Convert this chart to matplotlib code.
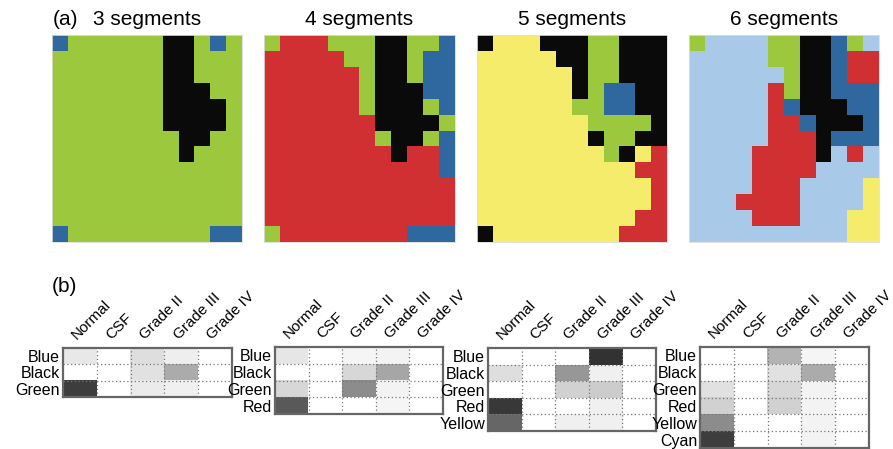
import numpy as np
import matplotlib
matplotlib.use("Agg")
import matplotlib.pyplot as plt
from matplotlib.colors import ListedColormap

plt.rcParams['font.family'] = ['Liberation Sans', 'DejaVu Sans']

# segment maps (13 rows x 12 cols); letters -> segment colour
seg_codes = "GBKRYC"
seg_colors = ["#9bc83c", "#2e689e", "#0a0a0a", "#d03032", "#f5ec6c", "#a9c9e9"]

map3 = ["BGGGGGGKKGBG",
        "GGGGGGGKKGGG",
        "GGGGGGGKKGGG",
        "GGGGGGGKKKGG",
        "GGGGGGGKKKKG",
        "GGGGGGGKKKKG",
        "GGGGGGGGKKGG",
        "GGGGGGGGKGGG",
        "GGGGGGGGGGGG",
        "GGGGGGGGGGGG",
        "GGGGGGGGGGGG",
        "GGGGGGGGGGGG",
        "BGGGGGGGGGBB"]
map4 = ["GRRRGGGKKGGB",
        "RRRRRGGKKGBB",
        "RRRRRRGKKGBB",
        "RRRRRRGKKKBB",
        "RRRRRRGKKKGB",
        "RRRRRRRKKKKG",
        "RRRRRRRGKKGB",
        "RRRRRRRRKRRB",
        "RRRRRRRRRRRB",
        "RRRRRRRRRRRR",
        "RRRRRRRRRRRR",
        "RRRRRRRRRRRR",
        "GRRRRRRRRBBB"]
map5 = ["KYYYKKKGGKKK",
        "YYYYYKKGGKKK",
        "YYYYYYKGGKKK",
        "YYYYYYKGBBKK",
        "YYYYYYGGBBKK",
        "YYYYYYYGGGGK",
        "YYYYYYYKGGKK",
        "YYYYYYYYGKYR",
        "YYYYYYYYYYRR",
        "YYYYYYYYYYYR",
        "YYYYYYYYYYYR",
        "YYYYYYYYYYRR",
        "KYYYYYYYYRRR"]
map6 = ["GCCCCGGKKBGC",
        "CCCCCGGKKBRR",
        "CCCCCCGKKBRR",
        "CCCCCRGKKBBB",
        "CCCCCRBKKKBB",
        "CCCCCRRBKKKB",
        "CCCCCRRRKBBB",
        "CCCCRRRRKCRC",
        "CCCCRRRRCCCC",
        "CCCCRRRCCCCY",
        "CCCRRRRCCCCY",
        "CCCCRRRCCCYY",
        "CCCCCCCCCCYY"]

map_titles = ["3 segments", "4 segments", "5 segments", "6 segments"]

# tables: fraction per tissue class (0 = white, 1 = black)
classes = ["Normal", "CSF", "Grade II", "Grade III", "Grade IV"]
rows3 = ["Blue", "Black", "Green"]
tab3 = [[0.09, 0, 0.13, 0.07, 0],
        [0, 0, 0.12, 0.33, 0],
        [0.76, 0, 0.08, 0.06, 0]]
rows4 = ["Blue", "Black", "Green", "Red"]
tab4 = [[0.10, 0, 0.04, 0.05, 0],
        [0, 0, 0.16, 0.35, 0],
        [0.16, 0, 0.45, 0.05, 0],
        [0.65, 0, 0, 0.04, 0]]
rows5 = ["Blue", "Black", "Green", "Red", "Yellow"]
tab5 = [[0, 0, 0, 0.80, 0],
        [0.13, 0, 0.41, 0.06, 0],
        [0, 0, 0.18, 0.20, 0],
        [0.78, 0, 0, 0.06, 0],
        [0.60, 0, 0.06, 0.06, 0]]
rows6 = ["Blue", "Black", "Green", "Red", "Yellow", "Cyan"]
tab6 = [[0, 0, 0.30, 0.04, 0],
        [0, 0, 0.12, 0.33, 0],
        [0.12, 0, 0.16, 0.05, 0],
        [0.18, 0, 0.18, 0.05, 0],
        [0.45, 0, 0, 0.05, 0],
        [0.76, 0, 0, 0.05, 0]]

W, H = 893, 449
fig = plt.figure(figsize=(W / 100, H / 100), dpi=100)


def px_axes(x0, y0, x1, y1):
    return fig.add_axes([x0 / W, 1 - y1 / H, (x1 - x0) / W, (y1 - y0) / H])


cmap = ListedColormap(seg_colors)
map_boxes = [(52, 35, 242, 242), (264, 35, 455, 242),
             (477, 35, 667, 242), (689, 35, 879, 242)]
for box, m, title in zip(map_boxes, [map3, map4, map5, map6], map_titles):
    ax = px_axes(*box)
    grid = np.array([[seg_codes.index(c) for c in row] for row in m])
    ax.imshow(grid, cmap=cmap, vmin=-0.5, vmax=len(seg_codes) - 0.5,
              aspect='auto', interpolation='nearest')
    ax.set_xticks([])
    ax.set_yticks([])
    for s in ax.spines.values():
        s.set_color('#dddddd')
        s.set_linewidth(0.6)
    ax.set_title(title, fontsize=15, pad=7)

fig.text(53 / W, 1 - 25 / H, "(a)", fontsize=15, ha='left', va='baseline')

tab_boxes = [(63, 348, 232, 397), (275, 347, 443, 414),
             (488, 348, 656, 431), (700, 347, 869, 448)]
for box, rows, vals in zip(tab_boxes, [rows3, rows4, rows5, rows6],
                           [tab3, tab4, tab5, tab6]):
    ax = px_axes(*box)
    ax.imshow(np.array(vals), cmap='gray_r', vmin=0, vmax=1,
              aspect='auto', interpolation='nearest')
    nr, nc = len(rows), len(classes)
    for j in range(1, nc):
        ax.axvline(j - 0.5, color='#777777', lw=0.9, ls=(0, (1, 2)))
    for i in range(1, nr):
        ax.axhline(i - 0.5, color='#777777', lw=0.9, ls=(0, (1, 2)))
    ax.xaxis.tick_top()
    ax.set_xticks(np.arange(nc) - 0.02)
    ax.set_xticklabels(classes, rotation=45, ha='left', va='bottom',
                       rotation_mode='anchor', fontsize=11)
    ax.set_yticks(range(nr))
    ax.set_yticklabels(rows, fontsize=11.5)
    ax.tick_params(axis='x', length=0, pad=4)
    ax.tick_params(axis='y', length=0, pad=2)
    ax.set_xlim(-0.5, nc - 0.5)
    for s in ax.spines.values():
        s.set_color('#666666')
        s.set_linewidth(1.6)

fig.text(52 / W, 1 - 287 / H, "(b)", fontsize=15, va='center', ha='left')

fig.savefig("out.png", dpi=100)
